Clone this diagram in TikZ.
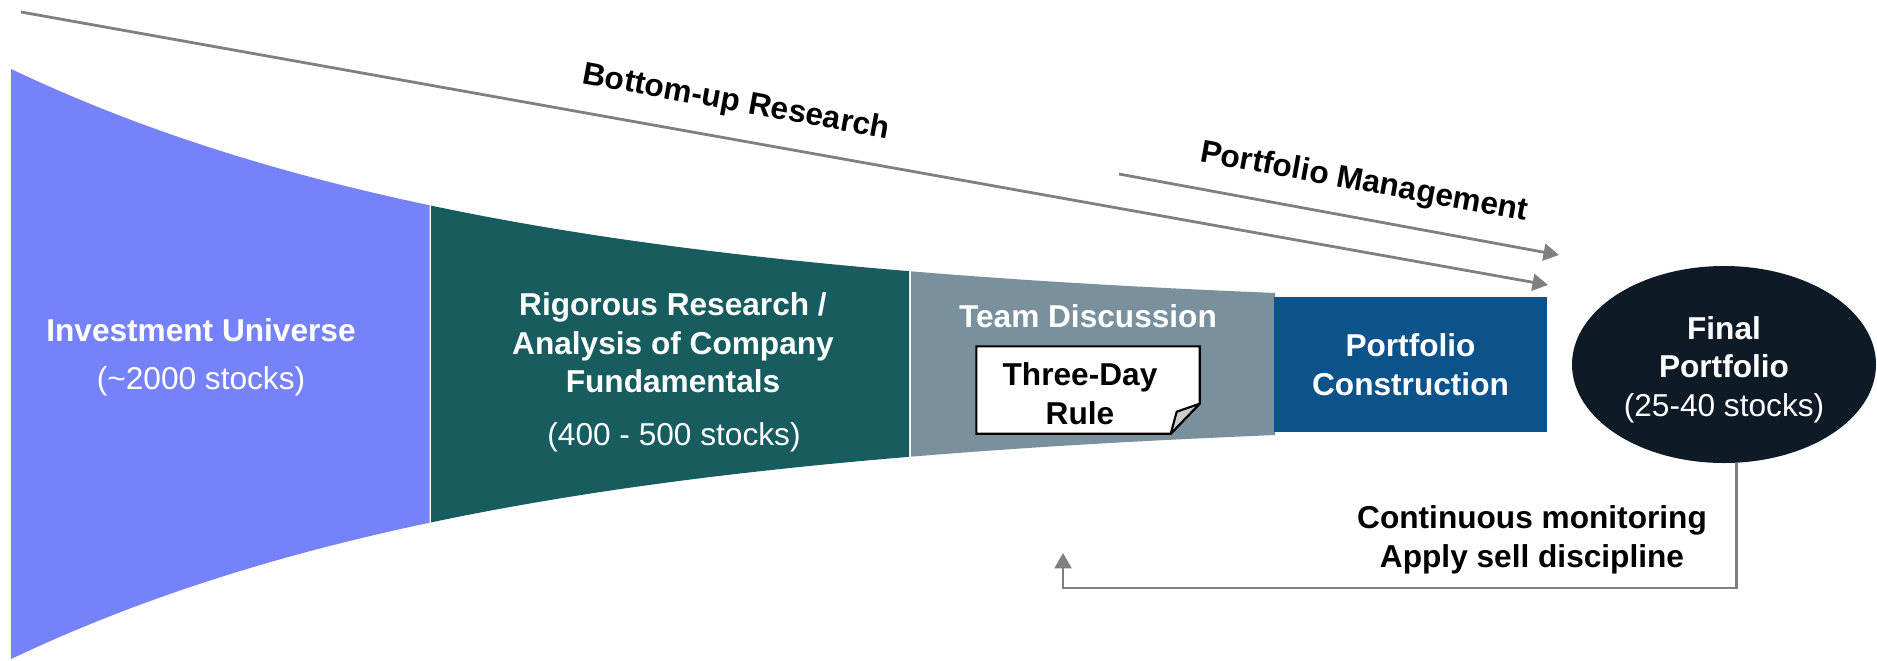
\documentclass[tikz,border=0pt]{standalone}
\usepackage{fontspec}
\setmainfont{Liberation Sans}
\usetikzlibrary{arrows.meta,shapes.geometric,calc}

\definecolor{cUniverse}{RGB}{118,130,250}
\definecolor{cResearch}{RGB}{23,92,94}
\definecolor{cTeam}{RGB}{122,144,157}
\definecolor{cConstruct}{RGB}{11,83,138}
\definecolor{cFinal}{RGB}{14,26,38}
\definecolor{cArrow}{RGB}{128,128,128}
\definecolor{cFlap}{RGB}{205,205,205}

% upper and lower edge of the funnel (pixel-like units, y grows downward)
\newcommand{\funnelTop}[1]{314-245*exp(-(#1-11)/515)}
\newcommand{\funnelBot}[1]{414+245*exp(-(#1-11)/515)}

\begin{document}
\begin{tikzpicture}[x=0.1mm,y=-0.1mm,
  flow/.style={draw=cArrow, line width=0.8pt, -{Triangle[length=4.4pt,width=4.8pt]}},
  title/.style={text=white, font=\fontsize{9}{11}\selectfont\bfseries, align=center, inner sep=0pt},
  count/.style={text=white, font=\fontsize{9}{11}\selectfont, align=center, inner sep=0pt},
  phase/.style={font=\fontsize{9}{11}\selectfont\bfseries, inner sep=0pt, rotate=-10.3},
  plain/.style={font=\fontsize{9}{11}\selectfont\bfseries, align=center, inner sep=0pt},
]
\useasboundingbox (0,0) rectangle (1877,660);

% funnel sections
\fill[cUniverse] plot[domain=11:429.5, samples=60] (\x,{\funnelTop{\x}})
  -- plot[domain=429.5:11, samples=60] (\x,{\funnelBot{\x}}) -- cycle;
\fill[cResearch] plot[domain=431:909, samples=60] (\x,{\funnelTop{\x}})
  -- plot[domain=909:431, samples=60] (\x,{\funnelBot{\x}}) -- cycle;
\fill[cTeam] plot[domain=911:1275, samples=40] (\x,{\funnelTop{\x}})
  -- plot[domain=1275:911, samples=40] (\x,{\funnelBot{\x}}) -- cycle;

% stage labels
\node[title, anchor=base] (univ) at (201,341) {Investment Universe};
\node[count, anchor=base] (univcount) at (201,389) {(\textasciitilde2000 stocks)};
\node[title] (research) at (673,343) {Rigorous Research /\\Analysis of Company\\Fundamentals};
\node[count, anchor=base] (researchcount) at (674,445) {(400 - 500 stocks)};
\node[title, anchor=base] (team) at (1088,327) {Team Discussion};

% three-day rule note with folded corner
\node[minimum width=22.2mm, minimum height=8.6mm, inner sep=0pt] (rule) at (1088,390) {};
\draw[fill=white, line width=0.6pt, line join=miter]
  (rule.north west) -- (rule.north east) -- ($(rule.south east)+(0,-30)$)
  -- ($(rule.south east)+(-29,0)$) -- (rule.south west) -- cycle;
\draw[fill=cFlap, line width=0.6pt, line join=round]
  ($(rule.south east)+(0,-30)$) -- ($(rule.south east)+(-23,-22)$)
  -- ($(rule.south east)+(-29,0)$) -- cycle;
\node[plain] (ruletxt) at (1080,394) {Three-Day\\Rule};

% portfolio construction
\node[fill=cConstruct, minimum width=27.3mm, minimum height=13.5mm, inner sep=0pt,
      title] (construct) at (1410.5,364.5) {Portfolio\\Construction};

% final portfolio
\node[ellipse, fill=cFinal, minimum width=30.4mm, minimum height=19.7mm, inner sep=0pt] (final) at (1724,364.5) {};
\node[count] (finaltxt) at (1724,369.5) {\textbf{Final}\\\textbf{Portfolio}\\(25-40 stocks)};

% process arrows
\coordinate (bustart) at (21,12);
\coordinate (buend) at (1548,285);
\coordinate (pmstart) at (1119,174);
\coordinate (pmend) at (1559,255);
\draw[flow] (bustart) -- (buend);
\draw[flow] (pmstart) -- (pmend);
\node[phase] (bottomup) at (736,103) {Bottom-up Research};
\node[phase] (pm) at (1364,183) {Portfolio Management};

% monitoring feedback loop
\coordinate (fbcorner) at (1063,588);
\coordinate (fbend) at (1063,553);
\draw[flow, line join=miter] (final.-83.6) |- (fbcorner) -- (fbend);
\node[plain] (monitor) at (1532,539.5) {Continuous monitoring\\Apply sell discipline};
\end{tikzpicture}
\end{document}
